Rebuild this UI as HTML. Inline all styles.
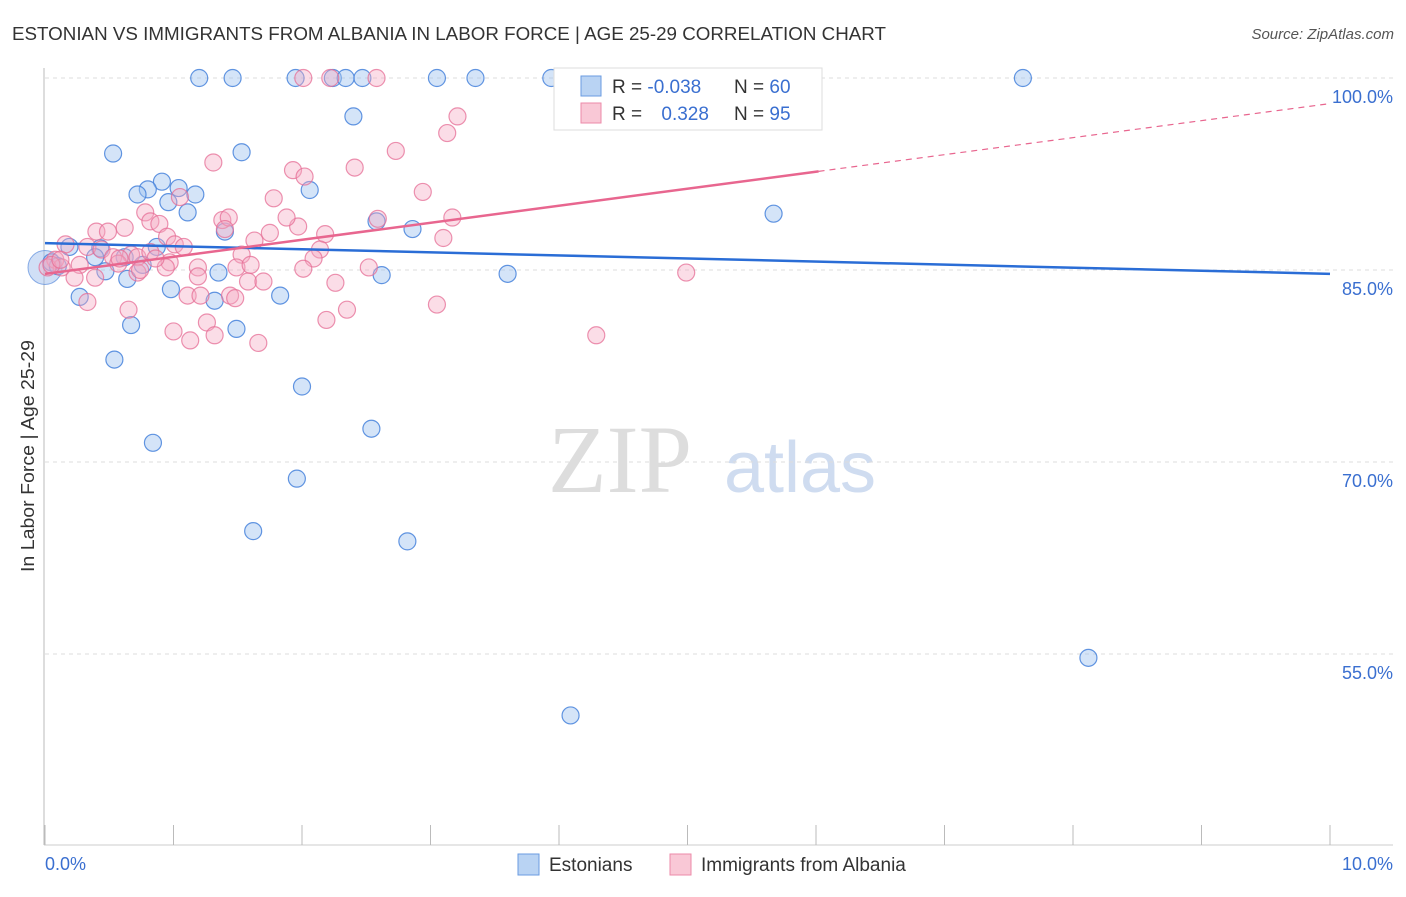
<!DOCTYPE html>
<html><head><meta charset="utf-8"><style>
body{margin:0;background:#fff;font-family:"Liberation Sans",sans-serif}
</style></head><body>
<svg id="c" width="1406" height="892" xmlns="http://www.w3.org/2000/svg">
<text x="12" y="40" font-size="18" fill="#333" textLength="874" lengthAdjust="spacingAndGlyphs">ESTONIAN VS IMMIGRANTS FROM ALBANIA IN LABOR FORCE | AGE 25-29 CORRELATION CHART</text>
<text x="1394" y="39" font-size="15" fill="#555" font-style="italic" text-anchor="end">Source: ZipAtlas.com</text>
<text x="620" y="492" font-size="96" fill="#ddd" font-family="Liberation Serif,serif" text-anchor="middle">ZIP</text>
<text x="800" y="492" font-size="72" fill="#cfdcf0" text-anchor="middle">atlas</text>
<text transform="translate(34,456) rotate(-90)" font-size="18" fill="#333" text-anchor="middle" textLength="232" lengthAdjust="spacingAndGlyphs">In Labor Force | Age 25-29</text>
<g id="grid"></g><g id="pts"></g><g id="lines"></g>
<g>
<rect x="554" y="68" width="268" height="62" fill="#fff" stroke="#ddd"/>
<rect x="581" y="76" width="20" height="20" fill="#b9d3f3" stroke="#6a9be0"/>
<rect x="581" y="103" width="20" height="20" fill="#f9c8d6" stroke="#ec8aa8"/>
<text x="612" y="93" font-size="19" fill="#333">R = <tspan fill="#3a6fd0">-0.038</tspan></text>
<text x="734" y="93" font-size="19" fill="#333">N = <tspan fill="#3a6fd0">60</tspan></text>
<text x="612" y="120" font-size="19" fill="#333">R = <tspan fill="#3a6fd0" dx="14">0.328</tspan></text>
<text x="734" y="120" font-size="19" fill="#333">N = <tspan fill="#3a6fd0">95</tspan></text>
</g>
<g>
<rect x="518" y="854" width="21" height="21" fill="#b9d3f3" stroke="#6a9be0"/>
<text x="549" y="871" font-size="19" fill="#333">Estonians</text>
<rect x="670" y="854" width="21" height="21" fill="#f9c8d6" stroke="#ec8aa8"/>
<text x="701" y="871" font-size="19" fill="#333">Immigrants from Albania</text>
</g>
</svg>
<script>
const xTicks=[0,1,2,3,4,5,6,7,8,9,10];
const yTicks=[100,85,70,55];
const yTickLabels=["100.0%","85.0%","70.0%","55.0%"];
const xTickLabels=["0.0%","10.0%"];
const blueX=[1.20,1.46,1.95,2.24,2.34,2.47,3.05,3.35,3.94,5.58,7.61,2.40,0.53,1.53,0.91,0.80,1.04,0.72,1.17,2.06,0.96,1.11,2.58,2.86,1.40,5.67,0.87,0.19,0.43,0.39,0.62,0.76,0.05,0.10,0.47,1.35,0.64,2.62,3.60,0.98,1.32,1.83,0.27,0.67,1.49,0.54,2.00,0.84,2.54,1.96,1.62,2.82,8.12,4.09];
const blueY=[100,100,100,100,100,100,100,100,100,100,100,97.0,94.1,94.2,91.9,91.3,91.4,90.9,90.9,91.25,90.3,89.5,88.8,88.2,88.0,89.4,86.8,86.8,86.7,86.0,86.0,85.4,85.6,85.3,84.9,84.8,84.3,84.6,84.7,83.5,82.6,83.0,82.9,80.7,80.4,78.0,75.9,71.5,72.6,68.7,64.6,63.8,54.7,50.2];
const pinkX=[2.01,2.22,2.58,5.21,3.21,3.13,2.73,1.31,2.41,1.93,2.02,2.94,1.78,0.78,1.05,2.59,3.17,1.38,1.43,1.97,1.88,0.82,0.89,0.40,0.49,0.62,0.95,1.40,1.75,1.63,2.18,3.10,0.16,0.33,0.44,0.53,0.67,0.72,0.82,1.01,1.08,2.14,1.53,2.09,0.97,0.08,0.13,0.27,0.57,0.72,1.19,0.94,1.49,1.60,2.01,2.52,4.99,0.23,0.39,1.19,1.58,1.70,2.26,0.33,1.11,1.21,1.44,1.48,2.35,3.05,2.19,0.65,1.00,1.13,1.26,1.32,1.66,4.29,0.02,0.05,0.12,0.58,0.86,0.74];
const pinkY=[100,100,100,100,97.0,95.7,94.3,93.4,93.0,92.8,92.3,91.1,90.6,89.5,90.7,89.0,89.1,88.9,89.1,88.4,89.1,88.8,88.6,88.0,88.0,88.3,87.6,88.2,87.9,87.3,87.8,87.5,87.0,86.8,86.6,86.0,86.2,86.0,86.4,87.0,86.8,86.6,86.2,85.9,85.6,85.8,85.2,85.4,85.5,84.8,85.2,85.2,85.2,85.4,85.1,85.2,84.8,84.4,84.4,84.5,84.1,84.1,84.0,82.5,83.0,83.0,83.0,82.8,81.9,82.3,81.1,81.9,80.2,79.5,80.9,79.9,79.3,79.9,85.2,85.4,85.8,85.9,85.9,85.0];
const blueTrend=[87.1,84.7];
const pinkTrend=[84.7,98.0];
const pinkSolidEnd=6.02;
const NS="http://www.w3.org/2000/svg";
const sx=v=>45+v*128.5, sy=v=>78+(100-v)*12.8;
function mk(p,tag,a){const e=document.createElementNS(NS,tag);for(const k in a)e.setAttribute(k,a[k]);p.appendChild(e);return e;}
const g=document.getElementById('grid'),P=document.getElementById('pts'),L=document.getElementById('lines');
const ax=mk(g,'line',{x1:44,y1:68,x2:44,y2:845,stroke:'#bbb'});


const bx=mk(g,'line',{x1:44,y1:845,x2:1393,y2:845,stroke:'#ccc'});


yTicks.forEach((t,i)=>{
 const l=mk(g,'line',{x1:45,y1:sy(t),x2:1393,y2:sy(t),stroke:'#ddd','stroke-dasharray':'4,4'});
 
 
 const tx=mk(g,'text',{x:1393,y:sy(t)+25,'font-size':18,fill:'#3a6fd0','text-anchor':'end'});tx.textContent=yTickLabels[i];
 
 
});
xTicks.forEach(t=>{const l=mk(g,'line',{x1:sx(t),y1:825,x2:sx(t),y2:845,stroke:'#bbb'});
 
 });
[[0,45,'start'],[10,1393,'end']].forEach(([v,x,a],i)=>{const tx=mk(g,'text',{x:x,y:870,'font-size':18,fill:'#3a6fd0','text-anchor':a});tx.textContent=xTickLabels[i];
 
 });
const big=mk(P,'circle',{cx:sx(0),cy:sy(85.2),r:17,fill:'rgba(150,185,235,0.45)',stroke:'rgba(90,140,220,0.7)'});


blueX.forEach((x,i)=>{const c=mk(P,'circle',{cx:sx(x),cy:sy(blueY[i]),r:8.5,fill:'rgba(160,195,240,0.45)',stroke:'rgba(70,130,220,0.85)','stroke-width':1.2});
 
 });
pinkX.forEach((x,i)=>{const c=mk(P,'circle',{cx:sx(x),cy:sy(pinkY[i]),r:8.5,fill:'rgba(245,170,195,0.4)',stroke:'rgba(230,110,150,0.75)','stroke-width':1.2});
 
 });
const pAt=v=>pinkTrend[0]+(pinkTrend[1]-pinkTrend[0])*v/10;
const bl=mk(L,'line',{x1:sx(0),y1:sy(blueTrend[0]),x2:sx(10),y2:sy(blueTrend[1]),stroke:'#2a6dd6','stroke-width':2.5});


const pl=mk(L,'line',{x1:sx(0),y1:sy(pAt(0)),x2:sx(pinkSolidEnd),y2:sy(pAt(pinkSolidEnd)),stroke:'#e8668f','stroke-width':2.5});


const pd=mk(L,'line',{x1:sx(pinkSolidEnd),y1:sy(pAt(pinkSolidEnd)),x2:sx(10),y2:sy(pAt(10)),stroke:'#e8668f','stroke-width':1.2,'stroke-dasharray':'6,5'});


</script>
</body></html>
